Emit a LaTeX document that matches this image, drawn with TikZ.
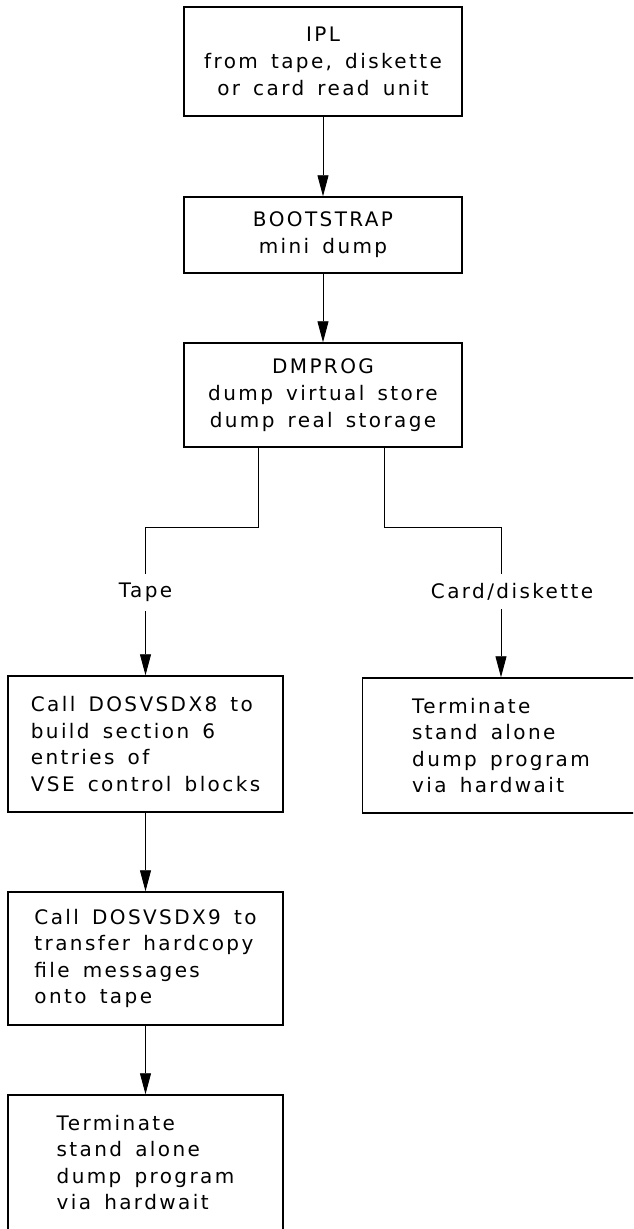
\documentclass[tikz,border=0pt]{standalone}
\usepackage{fontspec}
\setmainfont{DejaVu Sans}[LetterSpace=12, WordSpace=1.5]
\usepackage{tikz}
\usetikzlibrary{arrows.meta,positioning}

\begin{document}
\begin{tikzpicture}[
    x=1pt, y=-1pt,
    block/.style={draw, line width=1.5pt, align=center, minimum width=278pt, inner sep=0pt, font=\fontsize{20}{27}\selectfont},
    small/.style={draw, line width=1.5pt, align=left, minimum width=275pt, minimum height=135pt, inner sep=0pt, font=\fontsize{20}{26.5}\selectfont},
    lbl/.style={fill=white, inner xsep=1pt, inner ysep=9pt, font=\fontsize{20}{24}\selectfont},
    arrow/.style={-{Triangle[length=21pt,width=11pt]}, line width=0.9pt}
  ]
    \clip (0,0) rectangle (633,1229);
    \fill[white] (0,0) rectangle (633,1229);

    \node[block, minimum height=109pt] (ipl)    at (323,61.5) {IPL\\from tape, diskette\\or card read unit};
    \node[block, minimum height=76pt]  (boot)   at (323,235)  {BOOTSTRAP\\mini dump};
    \node[block, minimum height=104pt] (dmprog) at (323,395)  {DMPROG\\dump virtual store\\dump real storage};

    \coordinate (tapeout)   at (258,447);
    \coordinate (tapeknee)  at (145.5,527);
    \coordinate (cardout)   at (384,447);
    \coordinate (cardknee)  at (501,527);

    \node[small, minimum height=136pt] (dx8)   at (145.5,744)  {Call DOSVSDX8 to\\build section 6\\entries of\\VSE control blocks};
    \node[small, minimum height=133pt] (dx9)   at (145.5,958.5) {Call DOSVSDX9 to\\transfer hardcopy\\file messages\\onto tape};
    \node[small] (termL) at (145.5,1162.5) {Terminate\\stand alone\\dump program\\via hardwait};
    \node[small, minimum width=277pt] (termR) at (501,745.5) {Terminate\\stand alone\\dump program\\via hardwait};

    \draw[arrow] (ipl) -- (boot);
    \draw[arrow] (boot) -- (dmprog);
    \draw[arrow] (tapeout) |- (tapeknee) -- node[lbl, pos=0.44]{Tape} (dx8);
    \draw[arrow] (cardout) |- (cardknee) -- node[lbl, pos=0.43, xshift=11pt]{Card/diskette} (termR);
    \draw[arrow] (dx8) -- (dx9);
    \draw[arrow] (dx9) -- (termL);
  \end{tikzpicture}
\end{document}
